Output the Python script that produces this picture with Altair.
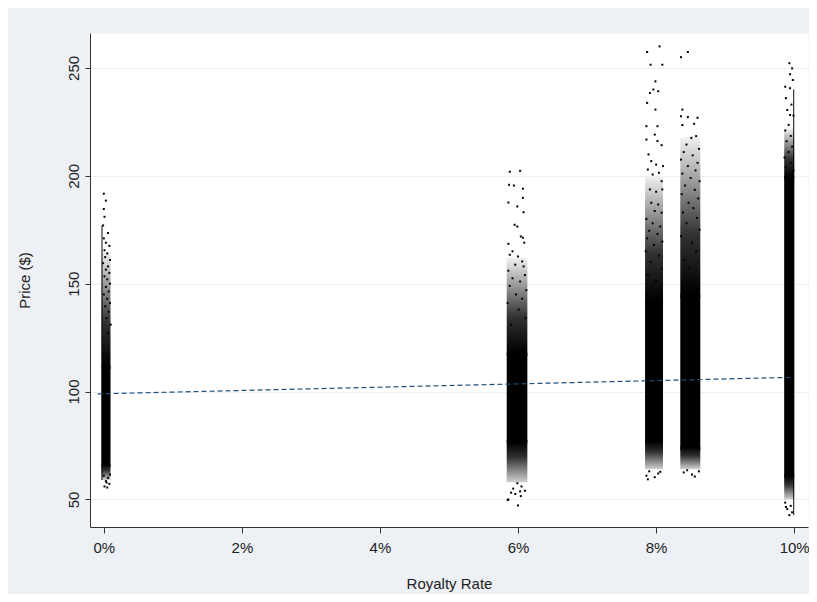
import altair as alt
import pandas as pd

# ---- data (royalty rate in %, price in $) ----
clu_rate = ["0%", "6%", "8%", "8.5%", "10%"]
clu_x0 = [-0.033, 5.836, 7.84, 8.35, 9.855]
clu_x1 = [0.097, 6.135, 8.10, 8.64, 10.0]
semi_top = [165, 162, 200, 218, 222]
core_top = [112, 118, 142, 145, 200]
core_bot = [65, 76, 76, 73, 60]
semi_bot = [59, 58, 64, 64, 50]

edge_x0 = [-0.033, 9.986]
edge_x1 = [-0.019, 10.0]
edge_lo = [59, 42.6]
edge_hi = [177, 240]

pts_0 = [(0.00, 191.7), (0.03, 188.5), (0.00, 184.6), (0.01, 181.0), (-0.01, 177.0),
         (0.06, 173.5), (0.00, 171.0), (0.03, 169.0), (0.08, 167.5), (0.01, 165.5),
         (0.05, 164.0), (0.02, 162.3), (0.09, 161.0), (-0.01, 159.5), (0.06, 158.0),
         (0.03, 156.5), (0.08, 155.0), (0.01, 153.4), (0.05, 152.0), (0.09, 150.0),
         (0.03, 148.5), (0.07, 146.4), (0.00, 145.0), (0.05, 143.0), (0.09, 141.0),
         (0.02, 139.5), (0.07, 137.0), (0.04, 134.0), (0.10, 131.0), (0.06, 127.0),
         (0.00, 61.0), (0.06, 60.0), (0.03, 58.5), (0.08, 57.2), (0.01, 56.0),
         (0.04, 57.8), (0.09, 61.5), (0.05, 55.5)]
pts_6 = [(5.88, 201.9), (6.03, 202.3), (5.87, 195.8), (5.94, 195.5), (6.07, 194.0),
         (6.07, 189.8), (5.86, 187.6), (5.99, 185.8), (6.08, 183.1), (5.95, 177.3),
         (5.99, 176.5), (6.04, 171.9), (5.86, 168.5), (6.07, 171.3), (6.09, 169.0),
         (5.92, 165.0), (6.00, 162.6), (6.06, 160.3), (5.88, 163.4), (5.96, 158.8),
         (6.08, 158.0), (5.86, 156.0), (6.10, 154.0), (5.92, 152.5), (6.03, 151.0),
         (5.88, 149.0), (6.12, 147.0), (5.97, 145.0), (6.06, 143.0), (5.85, 141.0),
         (6.01, 138.0), (6.11, 134.0), (5.90, 131.0),
         (5.99, 57.5), (6.05, 56.0), (5.93, 55.0), (6.10, 54.0), (5.96, 52.5),
         (6.04, 51.5), (5.86, 50.0), (6.00, 47.2), (5.90, 53.1), (6.03, 53.7), (5.85, 49.7)]
pts_8 = [(7.87, 257.4), (8.05, 260.0), (7.92, 251.5), (8.09, 251.5), (7.99, 243.8),
         (7.96, 240.0), (8.03, 239.2), (7.91, 238.4), (7.87, 233.8), (7.99, 230.7),
         (7.86, 223.0), (8.02, 223.0), (7.98, 219.1), (7.86, 216.8), (8.02, 216.1),
         (8.08, 214.2), (7.89, 209.9), (7.93, 206.8), (8.00, 205.2), (8.10, 204.5),
         (7.88, 202.9), (7.95, 200.6), (8.04, 201.4), (8.08, 197.5), (7.91, 193.7),
         (8.00, 192.6), (8.09, 193.7), (7.93, 187.5), (8.03, 186.7), (7.98, 183.7),
         (8.08, 182.9), (7.86, 180.0), (7.95, 178.0), (8.06, 176.5), (7.90, 174.5),
         (8.02, 173.0), (7.87, 171.0), (8.09, 169.5), (7.97, 168.0), (7.85, 165.0),
         (8.04, 163.0), (7.92, 160.0), (8.08, 157.0), (7.88, 154.0), (8.00, 151.0),
         (7.94, 148.0),
         (7.90, 63.0), (8.03, 62.0), (7.86, 61.0), (7.98, 60.3), (7.88, 59.3), (8.06, 62.8)]
pts_85 = [(8.36, 255.0), (8.46, 257.4), (8.38, 230.7), (8.36, 227.6), (8.46, 227.2),
          (8.60, 226.9), (8.38, 223.5), (8.55, 224.1), (8.51, 217.6), (8.58, 218.4),
          (8.44, 214.5), (8.62, 212.5), (8.40, 211.0), (8.53, 209.5), (8.36, 207.5),
          (8.60, 206.0), (8.46, 204.5), (8.57, 202.5), (8.38, 201.0), (8.50, 199.0),
          (8.63, 197.5), (8.42, 195.5), (8.56, 193.5), (8.37, 191.5), (8.61, 189.5),
          (8.47, 187.5), (8.54, 185.0), (8.39, 183.0), (8.59, 180.5), (8.44, 178.0),
          (8.63, 175.0), (8.36, 172.0), (8.52, 169.0), (8.58, 165.0), (8.41, 161.0),
          (8.48, 157.0), (8.62, 153.0), (8.38, 150.0),
          (8.40, 62.5), (8.52, 61.5), (8.56, 60.6), (8.45, 63.5), (8.62, 63.0)]
pts_10 = [(9.93, 252.2), (9.97, 249.8), (9.94, 247.1), (9.98, 244.4), (9.87, 241.3),
          (9.94, 240.6), (9.88, 236.0), (9.96, 233.0), (9.90, 230.5), (9.94, 228.2),
          (9.99, 227.9), (9.92, 223.6), (9.87, 221.0), (9.95, 218.5), (9.89, 216.0),
          (9.97, 213.5), (9.92, 211.0), (9.86, 208.5), (9.95, 206.0), (9.88, 204.0),
          (9.99, 202.5),
          (9.87, 48.5), (9.95, 47.0), (9.90, 45.5), (9.97, 44.0), (9.93, 42.7), (9.88, 46.5)]

fit_x = [-0.09, 10.0]
fit_y = [98.9, 106.6]

x_ticks = [0, 2, 4, 6, 8, 10]
y_ticks = [50, 100, 150, 200, 250]

# ---- tables ----
clusters = pd.DataFrame({"rate": clu_rate, "x0": clu_x0, "x1": clu_x1,
                         "semi_top": semi_top, "core_top": core_top,
                         "core_bot": core_bot, "semi_bot": semi_bot})
edges = pd.DataFrame({"x0": edge_x0, "x1": edge_x1, "lo": edge_lo, "hi": edge_hi})
pts = pd.DataFrame([{"x": p[0], "y": p[1]} for p in pts_0 + pts_6 + pts_8 + pts_85 + pts_10])
fit = pd.DataFrame({"x": fit_x, "y": fit_y})

FONT = "Liberation Sans"
xs = alt.Scale(domain=[-0.2, 10.2], nice=False, zero=False)
ys = alt.Scale(domain=[37.2, 266.2], nice=False, zero=False)
x_axis = alt.Axis(values=x_ticks, labelExpr="datum.value + '%'", grid=False,
                  title="Royalty Rate", tickSize=6, labelPadding=7,
                  titleY=56, titleBaseline="middle")
y_axis = alt.Axis(values=y_ticks, grid=True, gridColor="#EAF0F5", title="Price ($)",
                  tickSize=5, labelPadding=4, labelAngle=270, labelAlign="center",
                  labelBaseline="bottom", titleAngle=270, titleX=-66, titleY=247,
                  titleAlign="center", titleBaseline="middle")


def X(f):
    return alt.X(f, type="quantitative", scale=xs, axis=x_axis)


def Y(f):
    return alt.Y(f, type="quantitative", scale=ys, axis=y_axis)


grad_up = {"gradient": "linear", "x1": 0, "x2": 0, "y1": 0, "y2": 1,
           "stops": [{"offset": 0, "color": "#f2f2f2"},
                     {"offset": 0.25, "color": "#a4a4a4"},
                     {"offset": 0.6, "color": "#333333"},
                     {"offset": 0.97, "color": "#000000"},
                     {"offset": 1, "color": "#000000"}]}
grad_down = {"gradient": "linear", "x1": 0, "x2": 0, "y1": 0, "y2": 1,
             "stops": [{"offset": 0, "color": "#000000"},
                       {"offset": 0.05, "color": "#000000"},
                       {"offset": 0.4, "color": "#303030"},
                       {"offset": 1, "color": "#d0d0d0"}]}

# the fade bands reach 1.5 $ into the solid core so no seam shows between them
up = alt.Chart(clusters).transform_calculate(
    core_in="datum.core_top - 1.5"
).mark_rect(fill=grad_up, strokeWidth=0).encode(
    x=X("x0"), x2=alt.X2("x1"), y=Y("semi_top"), y2=alt.Y2("core_in:Q"))
down = alt.Chart(clusters).transform_calculate(
    core_in="datum.core_bot + 1.5"
).mark_rect(fill=grad_down, strokeWidth=0).encode(
    x=X("x0"), x2=alt.X2("x1"), y=Y("core_in:Q"), y2=alt.Y2("semi_bot"))
core = alt.Chart(clusters).mark_rect(fill="#000000", strokeWidth=0).encode(
    x=X("x0"), x2=alt.X2("x1"), y=Y("core_top"), y2=alt.Y2("core_bot"))
edge = alt.Chart(edges).mark_rect(fill="#000000", strokeWidth=0).encode(
    x=X("x0"), x2=alt.X2("x1"), y=Y("hi"), y2=alt.Y2("lo"))
dots = alt.Chart(pts).mark_square(size=4, color="#000000", opacity=1).encode(
    x=X("x"), y=Y("y"))
line = alt.Chart(fit).mark_line(color="#1f4f7a", strokeDash=[5, 3], strokeWidth=1.2).encode(
    x=X("x"), y=Y("y"))

chart = alt.layer(core, up, down, edge, dots, line).properties(
    width=718, height=494,
    padding={"left": 82, "top": 25, "right": 1, "bottom": 67},
    autosize=alt.AutoSizeParams(type="none"),
    background="#EDF1F5",
).configure_view(
    fill="#ffffff", stroke="transparent"
).configure_axis(
    labelFont=FONT, titleFont=FONT, labelFontSize=15, titleFontSize=15,
    labelColor="#222222", titleColor="#222222", titleFontWeight="normal",
    domainColor="#333333", tickColor="#333333", domainWidth=1, tickWidth=1,
)

chart.save("out.html", embed_options={"renderer": "svg", "actions": False})
